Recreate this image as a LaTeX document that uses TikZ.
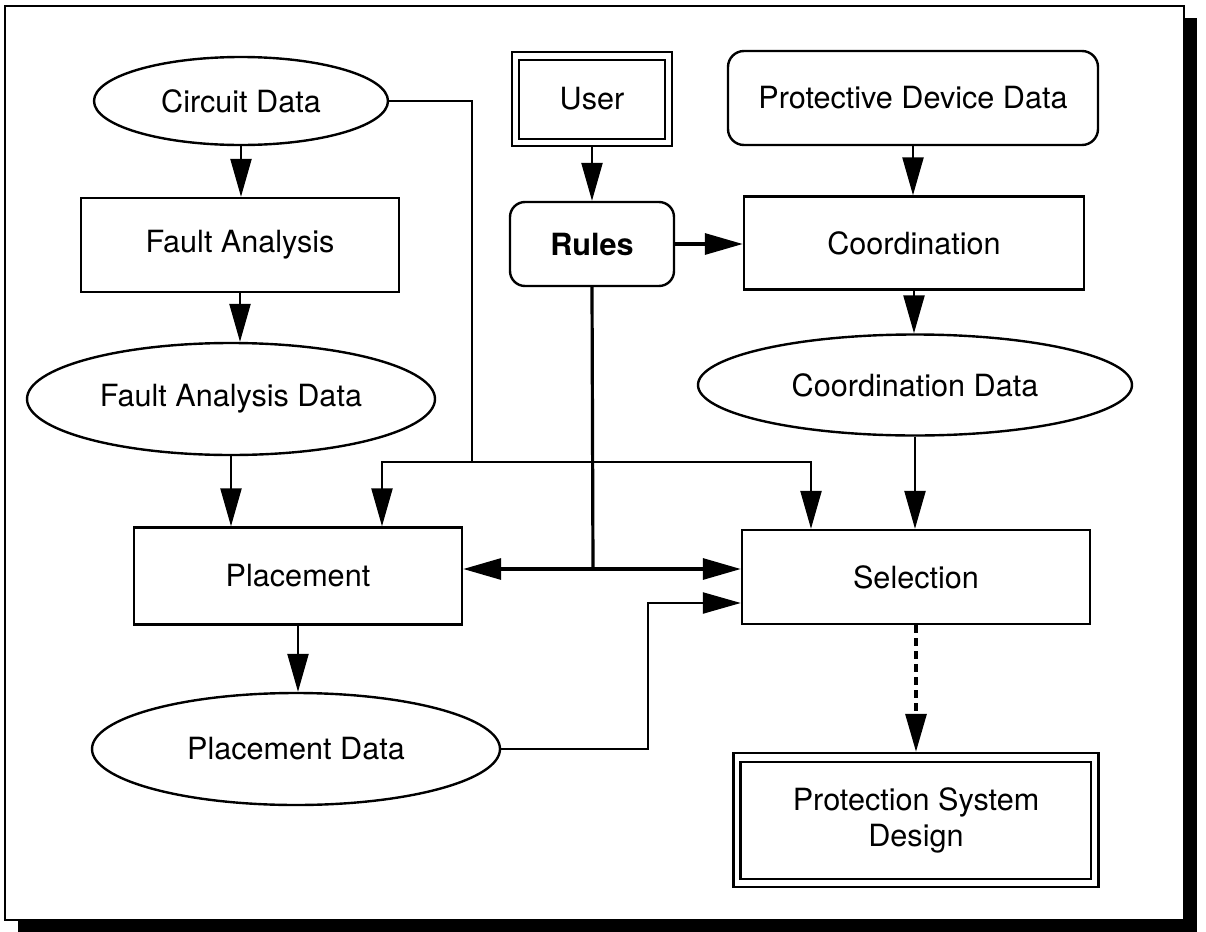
\documentclass[tikz,border=0pt]{standalone}
\usepackage{fontspec}
\setmainfont{TeX Gyre Heros}
\usetikzlibrary{shapes.geometric,arrows.meta}

\begin{document}
\begin{tikzpicture}[x=0.5pt,y=-0.5pt,
  nd/.style={draw,line width=1.2pt,inner sep=0pt,align=center,
    font=\fontsize{15.3}{18}\selectfont},
  boxnode/.style={nd,rectangle},
  rbox/.style={nd,rectangle,rounded corners=7.5pt},
  ell/.style={nd,ellipse},
  conn/.style={line width=1.2pt,-{Triangle[length=19pt,width=10.5pt]}},
  wire/.style={line width=1.2pt},
  heavy/.style={line width=1.6pt},
  heavyconn/.style={conn,line width=1.6pt},
  dashconn/.style={conn,line width=1.6pt,dash pattern=on 4pt off 2.5pt},
]
\useasboundingbox (0,0) rectangle (1206,932);

% drop shadow and frame
\fill[black] (18,18) rectangle (1197,932);
\filldraw[fill=white,line width=1.2pt] (5,6) rectangle (1184,920);

% left column
\node[ell,minimum width=147pt,minimum height=44pt] (cd) at (241,101) {Circuit Data};
\node[boxnode,minimum width=159pt,minimum height=47pt] (fa) at (240,245) {Fault Analysis};
\node[ell,minimum width=204pt,minimum height=56pt] (fad) at (231,399) {Fault Analysis Data};
\node[boxnode,minimum width=164pt,minimum height=48.5pt] (pl) at (298,576) {Placement};
\node[ell,minimum width=204pt,minimum height=56pt] (pd) at (296,749) {Placement Data};

% middle column
\node[boxnode,minimum width=80pt,minimum height=47pt] (user) at (592,99) {User};
\draw[line width=1.2pt] ([shift={(4pt,-4.5pt)}]user.north west) rectangle ([shift={(-4pt,4pt)}]user.south east);
\node[rbox,minimum width=82pt,minimum height=42pt,
  font=\fontsize{15.3}{18}\selectfont\bfseries] (rules) at (592,244) {Rules};

% right column
\node[rbox,minimum width=185pt,minimum height=47pt,rounded corners=8pt] (pdd) at (913,98) {Protective Device Data};
\node[boxnode,minimum width=170pt,minimum height=46.5pt] (co) at (914,243) {Coordination};
\node[ell,minimum width=217pt,minimum height=50.5pt] (cod) at (915,385) {Coordination Data};
\node[boxnode,minimum width=174pt,minimum height=47pt] (se) at (916,577) {Selection};
\node[boxnode,minimum width=182.5pt,minimum height=67pt] (psd) at (916,820) {Protection System\\Design};
\draw[line width=1.2pt] ([shift={(4pt,-5pt)}]psd.north west) rectangle ([shift={(-4.5pt,4.5pt)}]psd.south east);

% routing points
\coordinate (cj) at (472,462);
\coordinate (cl) at (382,462);
\coordinate (cr) at (811,462);
\coordinate (rj) at (593,569);
\coordinate (pk) at (648,603);

% vertical flows
\draw[conn] (cd.south) -- (cd.south |- fa.north);
\draw[conn] (fa.south) -- (fa.south |- fad.north);
\draw[conn] (fad.south) -- (fad.south |- pl.north);
\draw[conn] (pl.south) -- (pl.south |- pd.north);
\draw[conn] (user.south) -- (user.south |- rules.north);
\draw[conn] (pdd.south) -- (pdd.south |- co.north);
\draw[conn] (co.south) -- (co.south |- cod.north);
\draw[conn] (cod.south) -- (cod.south |- se.north);
\draw[dashconn] (se.south) -- (se.south |- psd.north);

% circuit data feeds placement and selection
\draw[wire] (cd.east) -| (cj);
\draw[conn] (cj) -- (cl) -- (cl |- pl.north);
\draw[conn] (cj) -- (cr) -- (cr |- se.north);

% rules feed coordination, placement and selection
\draw[heavyconn] (rules.east) -- (rules.east -| co.west);
\draw[heavy] (rules.south) -- (rj);
\draw[heavyconn] (rj) -- (rj -| pl.east);
\draw[heavyconn] (rj) -- (rj -| se.west);

% placement data feeds selection
\draw[conn] (pd.east) -| (pk) -- (pk -| se.west);
\end{tikzpicture}
\end{document}
